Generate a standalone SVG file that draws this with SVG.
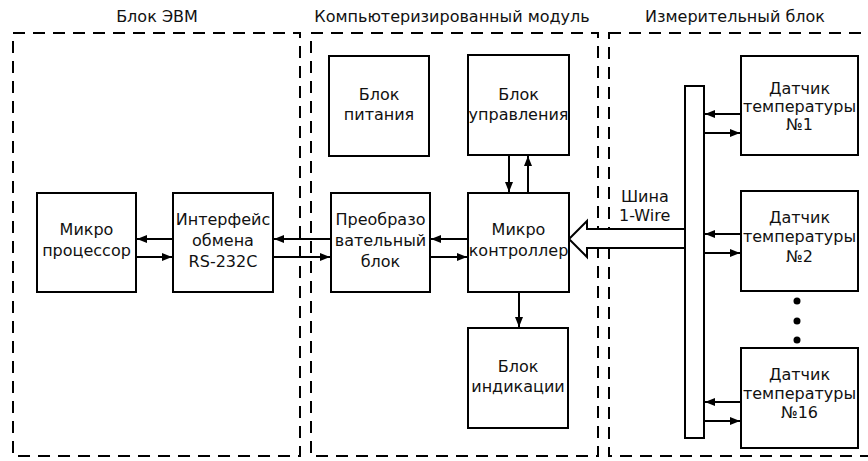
<svg xmlns="http://www.w3.org/2000/svg" width="868" height="461" viewBox="0 0 868 461">
<defs>
<marker id="ah" viewBox="0 0 10 8" refX="10" refY="4" markerWidth="10" markerHeight="8" markerUnits="userSpaceOnUse" orient="auto">
<path d="M0,0 L10,4 L0,8 Z" fill="#000"/>
</marker>
<style>
.frame{fill:none;stroke:#000;stroke-width:2;stroke-dasharray:12 8}
.box{fill:#fff;stroke:#000;stroke-width:2}
.ln{fill:none;stroke:#000;stroke-width:2;marker-end:url(#ah)}
.t{font-family:"DejaVu Sans",sans-serif;font-size:16px;fill:#111;text-anchor:middle}
.h{font-family:"DejaVu Sans",sans-serif;font-size:16px;fill:#111;text-anchor:middle}
.tl{font-family:"DejaVu Sans",sans-serif;font-size:16px;fill:#111}
</style>
</defs>
<rect width="868" height="461" fill="#fff"/>
<g id="frames">
<rect class="frame" x="13" y="33" width="287" height="423"/>
<rect class="frame" x="311" y="33" width="287" height="423"/>
<rect class="frame" x="609" y="33" width="270" height="423"/>
<text class="h" x="157" y="22">Блок ЭВМ</text>
<text class="h" x="452" y="22">Компьютеризированный модуль</text>
<text class="h" x="735" y="22">Измерительный блок</text>
</g>
<g id="connectors">
<line class="ln" x1="173" y1="239" x2="137" y2="239"/>
<line class="ln" x1="136" y1="257" x2="172" y2="257"/>
<line class="ln" x1="331" y1="239" x2="274" y2="239"/>
<line class="ln" x1="273" y1="257" x2="330" y2="257"/>
<line class="ln" x1="468" y1="239" x2="431" y2="239"/>
<line class="ln" x1="430" y1="257" x2="467" y2="257"/>
<line class="ln" x1="509" y1="155" x2="509" y2="192"/>
<line class="ln" x1="528" y1="193" x2="528" y2="156"/>
<line class="ln" x1="519" y1="292" x2="519" y2="327"/>
<line class="ln" x1="741" y1="114" x2="705" y2="114"/>
<line class="ln" x1="704" y1="133" x2="740" y2="133"/>
<line class="ln" x1="741" y1="234" x2="705" y2="234"/>
<line class="ln" x1="704" y1="253" x2="740" y2="253"/>
<line class="ln" x1="741" y1="402" x2="705" y2="402"/>
<line class="ln" x1="704" y1="421" x2="740" y2="421"/>
<path d="M685,229 L587,229 L587,221 L569,239 L587,257 L587,248 L685,248" fill="#fff" stroke="#000" stroke-width="2"/>
</g>
<g id="bus">
<rect class="box" x="685" y="86" width="19" height="352"/>
<text class="tl" x="621" y="202">Шина</text>
<text class="tl" x="619" y="221">1-Wire</text>
</g>
<g id="mp">
<rect class="box" x="37" y="193" width="99" height="99"/>
<text class="t" x="86.5" y="235">Микро</text>
<text class="t" x="86.5" y="256">процессор</text>
</g>
<g id="iface">
<rect class="box" x="173" y="193" width="100" height="99"/>
<text class="t" x="223" y="225">Интерфейс</text>
<text class="t" x="223" y="246">обмена</text>
<text class="t" x="223" y="267">RS-232C</text>
</g>
<g id="power">
<rect class="box" x="329" y="56" width="100" height="100"/>
<text class="t" x="379" y="100">Блок</text>
<text class="t" x="379" y="120">питания</text>
</g>
<g id="ctrl">
<rect class="box" x="468" y="55" width="101" height="100"/>
<text class="t" x="518.5" y="100">Блок</text>
<text class="t" x="518.5" y="120">управления</text>
</g>
<g id="conv">
<rect class="box" x="331" y="193" width="99" height="99"/>
<text class="t" x="380.5" y="225">Преобразо</text>
<text class="t" x="380.5" y="246">вательный</text>
<text class="t" x="380.5" y="267">блок</text>
</g>
<g id="mc">
<rect class="box" x="468" y="193" width="101" height="99"/>
<text class="t" x="518.5" y="235">Микро</text>
<text class="t" x="518.5" y="256">контроллер</text>
</g>
<g id="ind">
<rect class="box" x="468" y="328" width="100" height="100"/>
<text class="t" x="518" y="372">Блок</text>
<text class="t" x="518" y="392">индикации</text>
</g>
<g id="s1">
<rect class="box" x="741" y="56" width="117" height="99"/>
<text class="t" x="799.5" y="94">Датчик</text>
<text class="t" x="799.5" y="112">температуры</text>
<text class="t" x="799.5" y="130">№1</text>
</g>
<g id="s2">
<rect class="box" x="741" y="191" width="117" height="100"/>
<text class="t" x="799.5" y="223">Датчик</text>
<text class="t" x="799.5" y="242">температуры</text>
<text class="t" x="799.5" y="262">№2</text>
</g>
<g id="dots">
<circle cx="797" cy="301" r="3.5" fill="#000"/>
<circle cx="797" cy="321" r="3.5" fill="#000"/>
<circle cx="797" cy="340" r="3.5" fill="#000"/>
</g>
<g id="sn">
<rect class="box" x="741" y="348" width="117" height="100"/>
<text class="t" x="799.5" y="380">Датчик</text>
<text class="t" x="799.5" y="399">температуры</text>
<text class="t" x="799.5" y="418">№16</text>
</g>
</svg>
